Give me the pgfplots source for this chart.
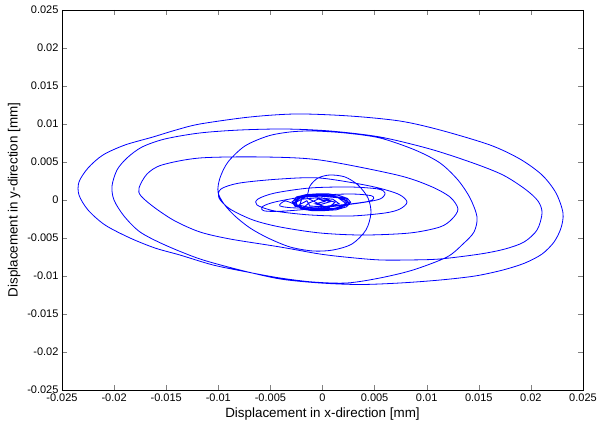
\documentclass[border=0pt]{standalone}
\usepackage{fontspec}
\setmainfont{Liberation Sans}
\usepackage{pgfplots}
\pgfplotsset{compat=1.18}
\definecolor{mblue}{RGB}{0,0,255}
\begin{document}
\begin{tikzpicture}
\useasboundingbox (-62pt,-38pt) rectangle (541pt,390pt);
\begin{axis}[
  scale only axis,
  width=521pt, height=380pt,
  xmin=-0.025, xmax=0.025,
  ymin=-0.025, ymax=0.025,
  xtick={-0.025,-0.02,-0.015,-0.01,-0.005,0,0.005,0.01,0.015,0.02,0.025},
  ytick={-0.025,-0.02,-0.015,-0.01,-0.005,0,0.005,0.01,0.015,0.02,0.025},
  scaled ticks=false,
  xticklabel style={/pgf/number format/fixed,/pgf/number format/precision=3},
  yticklabel style={/pgf/number format/fixed,/pgf/number format/precision=3},
  /pgf/number format/assume math mode=true,
  tick label style={font=\fontsize{11}{13}\selectfont},
  label style={font=\fontsize{13.4}{16}\selectfont},
  tick align=inside,
  major tick length=5pt,
  axis line style={line width=0.6pt},
  xlabel={Displacement in x-direction [mm]},
  ylabel={Displacement in y-direction [mm]},
]
% dense steady-state region
\addplot[mblue, line width=0.9pt] coordinates {
(-0.0028,-0.0005) (-0.0015,0.0005) (0.0005,0.0006) (0.0023,0.0002) (0.0025,-0.0006)
(0.0010,-0.0012) (-0.0012,-0.0013) (-0.0027,-0.0007) (-0.0024,0.0003) (-0.0008,0.0007)
(0.0012,0.0005) (0.0024,-0.0002) (0.0018,-0.0010) (-0.0003,-0.0013) (-0.0021,-0.0011)
(-0.0029,-0.0002) (-0.0018,0.0006) (0.0002,0.0007) (0.0019,0.0003) (0.0026,-0.0004)
(0.0015,-0.0011) (-0.0006,-0.0013) (-0.0024,-0.0009) (-0.0026,0.0001) (-0.0010,0.0006)
(0.0010,0.0006) (0.0022,0.0000) (0.0021,-0.0008) (0.0004,-0.0013) (-0.0016,-0.0012)
(-0.0028,-0.0004) (-0.0020,0.0004) (-0.0002,0.0005) (0.0015,0.0003) (0.0023,-0.0005)
(0.0012,-0.0011) (-0.0008,-0.0011) (-0.0022,-0.0007) (-0.0020,0.0001) (-0.0005,0.0003)
(0.0010,0.0001) (0.0016,-0.0005) (0.0003,-0.0009) (-0.0012,-0.0008) (-0.0015,-0.0001)
(-0.0026,-0.0009) (-0.0029,-0.0003) (-0.0025,0.0004) (-0.0016,0.0007) (-0.0006,0.0008)
(0.0006,0.0008) (0.0016,0.0006) (0.0024,0.0002) (0.0027,-0.0003) (0.0023,-0.0009)
(0.0013,-0.0013) (0.0001,-0.0014) (-0.0010,-0.0014) (-0.0020,-0.0012) (-0.0013,-0.0004)
(-0.0001,0.0003) (0.0012,-0.0003) (0.0006,-0.0010) (-0.0007,-0.0005) (0.0002,-0.0002)
(-0.0003,0.0001) (0.0008,-0.0002) (-0.0002,-0.0006) (-0.00149,0.00026)
};
% whirl orbit
\addplot[mblue, line width=0.8pt, smooth] coordinates {
(-0.00149,0.00026) (-0.00120,0.00184) (-0.00043,0.00289) (0.00072,0.00329) (0.00216,0.00303)
(0.00341,0.00197) (0.00437,0.00026) (0.00465,-0.00171) (0.00417,-0.00395) (0.00283,-0.00579)
(0.00101,-0.00658) (-0.00091,-0.00671) (-0.00312,-0.00618) (-0.00523,-0.00500) (-0.00696,-0.00368)
(-0.00840,-0.00211) (-0.00945,-0.00053) (-0.01003,0.00105) (-0.00984,0.00289) (-0.00907,0.00500)
(-0.00744,0.00711) (-0.00523,0.00842) (-0.00312,0.00895) (-0.00091,0.00908) (0.00216,0.00882)
(0.00552,0.00816) (0.00888,0.00658) (0.01128,0.00487) (0.01300,0.00263) (0.01416,0.00026)
(0.01483,-0.00224) (0.01454,-0.00421) (0.01348,-0.00579) (0.01195,-0.00750) (0.00869,-0.00921)
(0.00552,-0.01026) (0.00235,-0.01092) (-0.00091,-0.01079) (-0.00408,-0.01026) (-0.00725,-0.00947)
(-0.01051,-0.00855) (-0.01368,-0.00724) (-0.01607,-0.00632) (-0.01847,-0.00500) (-0.02087,-0.00329)
(-0.02250,-0.00132) (-0.02337,0.00066) (-0.02337,0.00237) (-0.02250,0.00421) (-0.02107,0.00592)
(-0.01895,0.00724) (-0.01627,0.00829) (-0.01406,0.00921) (-0.01176,0.01000) (-0.00696,0.01092)
(-0.00245,0.01132) (0.00264,0.01105) (0.00744,0.01039) (0.01128,0.00921) (0.01607,0.00724)
(0.01895,0.00539) (0.02107,0.00329) (0.02241,0.00092) (0.02308,-0.00171) (0.02289,-0.00368)
(0.02222,-0.00553) (0.02107,-0.00711) (0.01943,-0.00829) (0.01732,-0.00921) (0.01464,-0.01000)
(0.01128,-0.01053) (0.00744,-0.01092) (0.00360,-0.01112) (-0.00024,-0.01092) (-0.00408,-0.01039)
(-0.00792,-0.00921) (-0.01176,-0.00776) (-0.01512,-0.00592) (-0.01751,-0.00421) (-0.01905,-0.00211)
(-0.02001,0.00000) (-0.02020,0.00184) (-0.01972,0.00395) (-0.01876,0.00553) (-0.01732,0.00697)
(-0.01512,0.00803) (-0.01176,0.00882) (-0.00792,0.00921) (-0.00360,0.00934) (0.00072,0.00908)
(0.00552,0.00829) (0.01032,0.00671) (0.01444,0.00487) (0.01732,0.00329) (0.01943,0.00145)
(0.02068,-0.00013) (0.02107,-0.00171) (0.02059,-0.00395) (0.01934,-0.00553) (0.01751,-0.00645)
(0.01512,-0.00711) (0.01128,-0.00776) (0.00840,-0.00789) (0.00552,-0.00789) (0.00264,-0.00757)
(-0.00024,-0.00711) (-0.00408,-0.00618) (-0.00888,-0.00513) (-0.01176,-0.00421) (-0.01416,-0.00276)
(-0.01607,-0.00105) (-0.01742,0.00053) (-0.01761,0.00158) (-0.01684,0.00342) (-0.01540,0.00461)
(-0.01176,0.00553) (-0.00571,0.00566) (-0.00024,0.00526) (0.00715,0.00329) (0.01032,0.00184)
(0.01224,0.00039) (0.01300,-0.00118) (0.01243,-0.00250) (0.01128,-0.00355) (0.00840,-0.00434)
(0.00389,-0.00461) (-0.00024,-0.00434) (-0.00408,-0.00355) (-0.00667,-0.00263) (-0.00888,-0.00118)
(-0.00993,0.00026) (-0.00974,0.00145) (-0.00792,0.00224) (-0.00408,0.00276) (-0.00024,0.00289)
(0.00456,0.00184) (0.00725,0.00079) (0.00811,-0.00026) (0.00744,-0.00118) (0.00600,-0.00171)
(0.00264,-0.00211) (-0.00120,-0.00197) (-0.00456,-0.00145) (-0.00629,-0.00066) (-0.00619,0.00013)
(-0.00456,0.00092) (-0.00120,0.00158) (0.00264,0.00171) (0.00533,0.00145) (0.00600,0.00092)
(0.00552,0.00013) (0.00360,-0.00039) (-0.00024,-0.00105) (-0.00360,-0.00145) (-0.00552,-0.00145)
(-0.00581,-0.00092) (-0.00456,-0.00026) (-0.00120,0.00053) (0.00264,0.00079) (0.00475,0.00053)
(0.00456,-0.00013) (0.00168,-0.00066) (-0.00216,-0.00105) (-0.00408,-0.00079) (-0.00360,-0.00013)
(-0.0028,-0.0005)
};
\end{axis}
\end{tikzpicture}
\end{document}
